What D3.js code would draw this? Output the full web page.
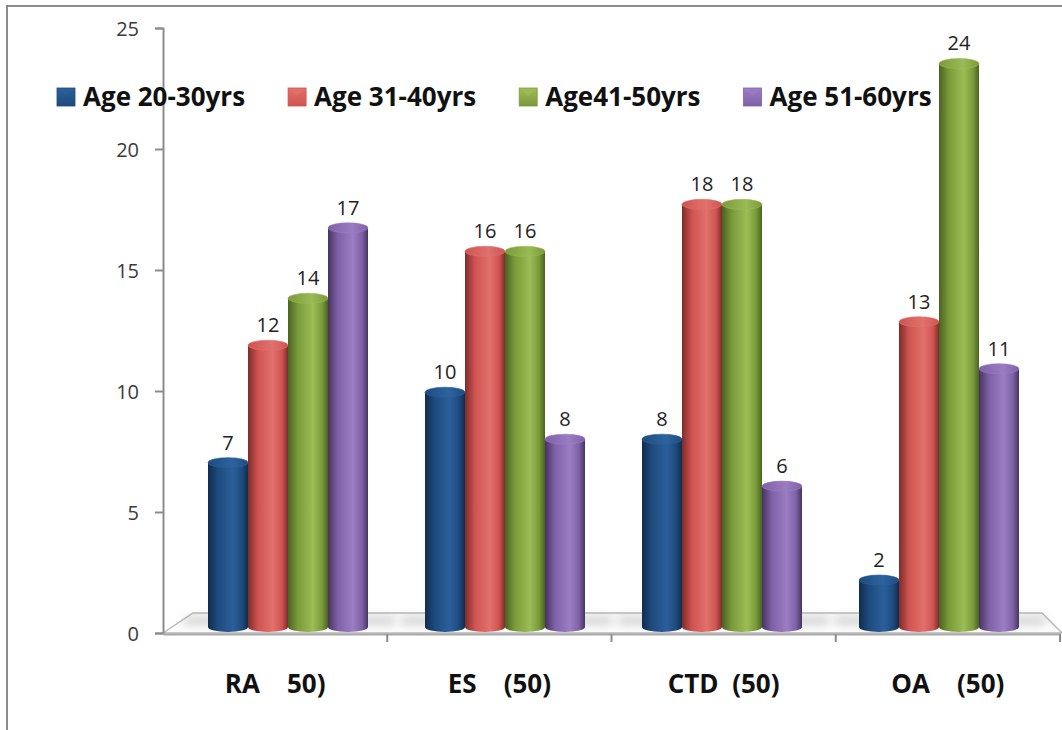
<!DOCTYPE html>
<html>
<head>
<meta charset="utf-8">
<script src="https://cdn.jsdelivr.net/npm/d3@7"></script>
<style>
  html, body { margin: 0; padding: 0; background: #ffffff; }
  svg { display: block; }
  .tick-label { font-family: "Open Sans", sans-serif; font-size: 20px; fill: #3a3a3a; }
  .value-label { font-family: "Open Sans", sans-serif; font-size: 20px; fill: #222; }
  .legend-label { font-family: "Open Sans", sans-serif; font-size: 26px; font-weight: 700; fill: #111; }
  .cat-label { font-family: "Open Sans", sans-serif; font-size: 26px; font-weight: 700; fill: #111; white-space: pre; }
</style>
</head>
<body>
<svg id="chart" width="1062" height="730"></svg>
<script>
// ---- data ----
const categories = ["RA", "ES", "CTD", "OA"];
const categoryLabels = ["RA    50)", "ES    (50)", "CTD  (50)", "OA    (50)"];
const seriesNames = ["Age 20-30yrs", "Age 31-40yrs", "Age41-50yrs", "Age 51-60yrs"];
const age20to30 = [7, 10, 8, 2];
const age31to40 = [12, 16, 18, 13];
const age41to50 = [14, 16, 18, 24];
const age51to60 = [17, 8, 6, 11];
const yTicks = [0, 5, 10, 15, 20, 25];

const seriesValues = [age20to30, age31to40, age41to50, age51to60];
// base, dark edge, highlight for each cylinder colour
const palette = [
  { base: "#1e4b7e", dark: "#112c4e", light: "#2b5f9b", top: "#2e63a0" },
  { base: "#cf5451", dark: "#7e2c2a", light: "#e2706c", top: "#e0716d" },
  { base: "#7b9b3b", dark: "#4a6320", light: "#9cbc55", top: "#9aba55" },
  { base: "#7f61a8", dark: "#45345f", light: "#9b7dc4", top: "#9a7cc2" }
];

const svg = d3.select("#chart");
const defs = svg.append("defs");

// ---- scales ----
const yAxisScale = d3.scaleLinear().domain([0, 25]).range([633, 28]);
// bars stand on the back of the floor, so their plane is slightly compressed
const yBar = d3.scaleLinear().domain([0, 25]).range([627, 40]);
const xFront = d3.scaleBand().domain(categories).range([163, 1060]);
const xGroup = d3.scaleBand().domain(categories).range([179.5, 1047.5]);
const xSeries = d3.scaleBand().domain(seriesNames).range([28.5, 188.5]);

// ---- gradients ----
palette.forEach((c, i) => {
  const g = defs.append("linearGradient").attr("id", "cyl" + i)
    .attr("x1", "0").attr("x2", "1").attr("y1", "0").attr("y2", "0");
  g.append("stop").attr("offset", "0").attr("stop-color", c.dark);
  g.append("stop").attr("offset", "0.25").attr("stop-color", c.base);
  g.append("stop").attr("offset", "0.62").attr("stop-color", c.light);
  g.append("stop").attr("offset", "0.85").attr("stop-color", c.base);
  g.append("stop").attr("offset", "1").attr("stop-color", c.dark);
  const t = defs.append("linearGradient").attr("id", "cap" + i)
    .attr("x1", "0").attr("x2", "1").attr("y1", "0").attr("y2", "0");
  t.append("stop").attr("offset", "0").attr("stop-color", c.base);
  t.append("stop").attr("offset", "0.6").attr("stop-color", c.top);
  t.append("stop").attr("offset", "1").attr("stop-color", c.base);
  const l = defs.append("linearGradient").attr("id", "leg" + i)
    .attr("x1", "0").attr("x2", "0").attr("y1", "0").attr("y2", "1");
  l.append("stop").attr("offset", "0").attr("stop-color", c.light);
  l.append("stop").attr("offset", "1").attr("stop-color", c.base);
});
const floorGrad = defs.append("linearGradient").attr("id", "floorGrad")
  .attr("x1", "0").attr("x2", "0").attr("y1", "0").attr("y2", "1");
floorGrad.append("stop").attr("offset", "0").attr("stop-color", "#f6f6f6");
floorGrad.append("stop").attr("offset", "1").attr("stop-color", "#fefefe");
defs.append("filter").attr("id", "soft").attr("x", "-20%").attr("y", "-100%")
  .attr("width", "140%").attr("height", "300%")
  .append("feGaussianBlur").attr("stdDeviation", 4);

// ---- outer frame ----
svg.append("rect").attr("x", 7).attr("y", 6).attr("width", 1100).attr("height", 800)
  .attr("fill", "none").attr("stroke", "#8c8c8c").attr("stroke-width", 2);

// ---- floor ----
const floorBackY = 613, floorFrontY = 633;
svg.append("path")
  .attr("d", `M163,${floorFrontY} L193,${floorBackY} L1042,${floorBackY} L1062,${floorFrontY} Z`)
  .attr("fill", "url(#floorGrad)").attr("stroke", "#b8b8b8").attr("stroke-width", 1.5);

// soft shadows cast on the floor behind each group
svg.append("g").selectAll("rect").data(categories).join("rect")
  .attr("x", d => xGroup(d) + 5)
  .attr("y", 616)
  .attr("width", 210)
  .attr("height", 10)
  .attr("fill", "#a0a0a0")
  .attr("opacity", 0.35)
  .attr("filter", "url(#soft)");

// ---- y axis ----
const yAxis = d3.axisLeft(yAxisScale).tickValues(yTicks).tickSize(8).tickPadding(16);
const yAxisG = svg.append("g").attr("transform", "translate(163,0)").call(yAxis);
yAxisG.select(".domain").attr("stroke", "#8c8c8c").attr("stroke-width", 2);
yAxisG.selectAll(".tick line").attr("stroke", "#8c8c8c").attr("stroke-width", 2);
yAxisG.selectAll(".tick text").attr("class", "tick-label").attr("dy", "0.36em");

// ---- x axis (front edge of the floor) ----
const xAxis = d3.axisBottom(xFront).tickSize(0).tickFormat("");
const xAxisG = svg.append("g").attr("transform", `translate(0,${floorFrontY + 1})`).call(xAxis);
xAxisG.select(".domain").attr("stroke", "#a8a8a8").attr("stroke-width", 2);
// category divider ticks
svg.append("g").selectAll("line").data(categories).join("line")
  .attr("x1", d => xFront(d) + xFront.bandwidth())
  .attr("x2", d => xFront(d) + xFront.bandwidth())
  .attr("y1", floorFrontY + 1).attr("y2", floorFrontY + 9)
  .attr("stroke", "#8c8c8c").attr("stroke-width", 2);

svg.append("g").selectAll("text").data(categories).join("text")
  .attr("class", "cat-label")
  .attr("x", d => xFront(d) + xFront.bandwidth() / 2)
  .attr("y", 693)
  .attr("text-anchor", "middle")
  .text((d, i) => categoryLabels[i]);

// ---- cylinders ----
const ry = 5;
const bars = [];
categories.forEach((cat, ci) => {
  seriesNames.forEach((s, si) => {
    bars.push({ cat, series: s, si, value: seriesValues[si][ci] });
  });
});
const barW = xSeries.bandwidth();
const barG = svg.append("g").selectAll("g").data(bars).join("g");
barG.append("path")
  .attr("d", d => {
    const x0 = xGroup(d.cat) + xSeries(d.series);
    const yt = yBar(d.value), yb = yBar(0);
    return `M${x0},${yt} L${x0},${yb} A${barW / 2},${ry} 0 0 0 ${x0 + barW},${yb} L${x0 + barW},${yt} Z`;
  })
  .attr("fill", d => `url(#cyl${d.si})`);
barG.append("ellipse")
  .attr("cx", d => xGroup(d.cat) + xSeries(d.series) + barW / 2)
  .attr("cy", d => yBar(d.value))
  .attr("rx", barW / 2).attr("ry", ry)
  .attr("fill", d => `url(#cap${d.si})`)
  .attr("stroke", d => palette[d.si].light).attr("stroke-width", 0.6);
barG.append("text")
  .attr("class", "value-label")
  .attr("x", d => xGroup(d.cat) + xSeries(d.series) + barW / 2)
  .attr("y", d => yBar(d.value) - 13)
  .attr("text-anchor", "middle")
  .text(d => d.value);

// ---- legend ----
const legend = svg.append("g");
let lx = 57;
seriesNames.forEach((name, i) => {
  const item = legend.append("g").attr("transform", `translate(${lx},88)`);
  item.append("rect").attr("width", 18).attr("height", 18).attr("fill", `url(#leg${i})`)
    .attr("stroke", palette[i].base).attr("stroke-width", 0.8);
  item.append("path").attr("d", "M1,1 L17,1 L9,8 Z").attr("fill", palette[i].light).attr("opacity", 0.8);
  const t = item.append("text").attr("class", "legend-label").attr("x", 26).attr("y", 18).text(name);
  lx += 26 + t.node().getComputedTextLength() + 43;
});
</script>
</body>
</html>
